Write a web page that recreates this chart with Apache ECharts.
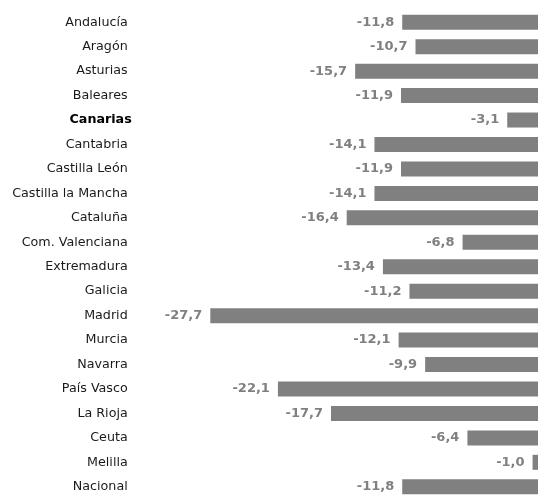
<!DOCTYPE html>
<html>
<head>
<meta charset="utf-8">
<script src="https://cdn.jsdelivr.net/npm/echarts@6/dist/echarts.min.js"></script>
<style>html,body{margin:0;padding:0;background:#fff;}#c{width:538px;height:499px;}</style>
</head>
<body>
<div id="c"></div>
<script>
const categories = ["Andalucía","Aragón","Asturias","Baleares","Canarias","Cantabria","Castilla León","Castilla la Mancha","Cataluña","Com. Valenciana","Extremadura","Galicia","Madrid","Murcia","Navarra","País Vasco","La Rioja","Ceuta","Melilla","Nacional"];
const values = [-11.8,-10.7,-15.7,-11.9,-3.1,-14.1,-11.9,-14.1,-16.4,-6.8,-13.4,-11.2,-27.7,-12.1,-9.9,-22.1,-17.7,-6.4,-1.0,-11.8];
const highlighted = "Canarias";

const chart = echarts.init(document.getElementById('c'), null, {renderer:'canvas'});
chart.setOption({
  animation:false,
  grid:{left:206.7, right:0, top:10, height:493, containLabel:false},
  xAxis:{type:'value', min:-28, max:-0.55, show:false},
  yAxis:{
    type:'category', data:categories, inverse:true,
    axisLine:{show:false}, axisTick:{show:false}, splitLine:{show:false},
    axisLabel:{
      margin:79, fontFamily:'DejaVu Sans', fontSize:12.7, color:'#1a1a1a',
      formatter:function(v){ return v===highlighted ? '{b|'+v+'}' : v; },
      rich:{b:{fontFamily:'DejaVu Sans', fontSize:12.7, fontWeight:'bold', color:'#000', padding:[0,-4,0,0]}}
    }
  },
  series:[{
    type:'bar', data:values, barWidth:15, clip:true,
    itemStyle:{color:'#808080'},
    label:{
      show:true, position:'left', distance:8,
      fontFamily:'DejaVu Sans', fontSize:13, fontWeight:'bold', color:'#808080',
      formatter:function(p){ return p.value.toFixed(1).replace('.',','); }
    }
  }]
});
</script>
</body>
</html>
